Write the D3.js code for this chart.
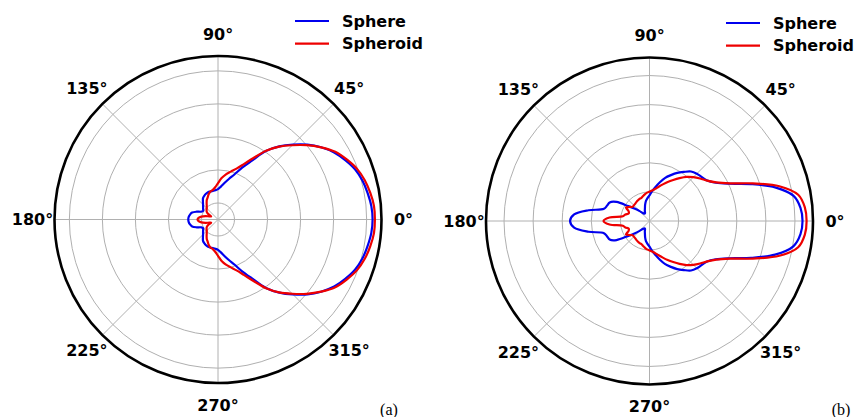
<!DOCTYPE html>
<html>
<head>
<meta charset="utf-8">
<script src="https://cdn.jsdelivr.net/npm/d3@7"></script>
<style>
  body { margin: 0; background: #fff; }
  svg { display: block; }
</style>
</head>
<body>
<svg id="chart" width="860" height="417"></svg>
<script>
// Far-field patterns (dB) sampled every 5° from 0° to 355°
const sampleAngles = d3.range(0, 360, 5);

// Panel (a)
const sphereA = [
  1.8, 1.6, 1.0, 0.3, -0.8, -2.5, -4.4, -6.9, -9.7, -12.9, -16.1, -19.7, -24.4, -27.7, -30.5, -32.3, -33.8, -35.0,
  -35.8, -36.1, -36.2, -36.2, -36.2, -36.4, -36.7, -37.1, -37.9, -38.6, -39.1, -39.5, -39.8, -39.4, -38.1, -36.9, -36.4, -36.1,
  -36.0, -36.1, -36.4, -36.9, -38.1, -39.4, -39.8, -39.5, -39.1, -38.6, -37.9, -37.1, -36.7, -36.4, -36.2, -36.2, -36.2, -36.1,
  -35.8, -35.0, -33.8, -32.3, -30.5, -27.7, -24.4, -19.7, -16.1, -12.9, -9.7, -6.9, -4.4, -2.5, -0.8, 0.3, 1.0, 1.6
];
const spheroidA = [
  2.5, 2.4, 1.8, 1.0, -0.2, -2.0, -4.0, -6.9, -10.0, -13.2, -16.2, -19.6, -23.5, -26.5, -28.6, -30.0, -31.1, -32.4,
  -34.0, -35.2, -35.9, -36.2, -36.8, -37.6, -38.2, -39.0, -39.7, -40.2, -40.5, -40.8, -41.4, -42.7, -42.2, -41.1, -39.9, -39.1,
  -38.8, -39.1, -39.9, -41.1, -42.2, -42.7, -41.4, -40.8, -40.5, -40.2, -39.7, -39.0, -38.2, -37.6, -36.8, -36.2, -35.9, -35.2,
  -34.0, -32.4, -31.1, -30.0, -28.6, -26.5, -23.5, -19.6, -16.2, -13.2, -10.0, -6.9, -4.0, -2.0, -0.2, 1.0, 1.8, 2.4
];

// Panel (b)
const sphereB = [
  2.6, 2.1, 0.2, -5.3, -12.9, -19.7, -23.7, -25.8, -26.5, -27.0, -27.8, -29.4, -30.9, -32.6, -34.2, -36.2, -38.1, -39.7,
  -41.2, -42.1, -43.0, -44.2, -45.4, -46.2, -46.9, -46.9, -46.4, -45.2, -43.5, -41.1, -36.9, -34.9, -34.5, -33.8, -28.7, -24.0,
  -22.7, -24.0, -28.7, -33.8, -34.5, -34.9, -36.9, -41.1, -43.5, -45.2, -46.4, -46.9, -46.9, -46.2, -45.4, -44.2, -43.0, -42.1,
  -41.2, -39.7, -38.1, -36.2, -34.2, -32.6, -30.9, -29.4, -27.8, -27.0, -26.5, -25.8, -23.7, -19.7, -12.9, -5.3, 0.2, 2.1
];
const spheroidB = [
  4.0, 3.6, 1.9, -3.8, -12.2, -19.4, -23.5, -25.8, -27.3, -28.7, -30.2, -32.0, -33.7, -35.2, -36.6, -37.8, -38.8, -39.5,
  -39.9, -40.2, -40.7, -41.2, -41.6, -41.7, -41.9, -42.1, -42.3, -42.4, -42.4, -41.6, -40.7, -42.1, -42.4, -41.4, -40.7, -36.2,
  -34.2, -36.2, -40.7, -41.4, -42.4, -42.1, -40.7, -41.6, -42.4, -42.4, -42.3, -42.1, -41.9, -41.7, -41.6, -41.2, -40.7, -40.2,
  -39.9, -39.5, -38.8, -37.8, -36.6, -35.2, -33.7, -32.0, -30.2, -28.7, -27.3, -25.8, -23.5, -19.4, -12.2, -3.8, 1.9, 3.6
];

// Axis ticks
const thetaTicks = [0, 45, 90, 135, 180, 225, 270, 315];
const thetaLabels = ["0°", "45°", "90°", "135°", "180°", "225°", "270°", "315°"];
const ringTicks = [-40, -30, -20, -10, 0];
const seriesNames = ["Sphere", "Spheroid"];
const seriesColors = ["#0000ee", "#ee0000"];

const panels = [
  { cx: 218, cy: 219.5, domain: [-45, 4.5], series: [sphereA, spheroidA], tag: "(a)", tagX: 389, legendX: 295, legendY: 21 },
  { cx: 649.5, cy: 221, domain: [-50, 6.2], series: [sphereB, spheroidB], tag: "(b)", tagX: 841, legendX: 726, legendY: 23 }
];

const R = 163.5;
const svg = d3.select("#chart");
svg.append("rect").attr("width", 860).attr("height", 417).attr("fill", "#fff");

const toRad = d => d * Math.PI / 180;

panels.forEach(p => {
  const g = svg.append("g").attr("transform", `translate(${p.cx},${p.cy})`);
  const r = d3.scaleLinear().domain(p.domain).range([0, R]);

  // grid rings
  g.selectAll("circle.ring").data(ringTicks).join("circle")
    .attr("class", "ring").attr("r", d => r(d))
    .attr("fill", "none").attr("stroke", "#b0b0b0").attr("stroke-width", 1);

  // spokes
  g.selectAll("line.spoke").data(thetaTicks).join("line")
    .attr("class", "spoke")
    .attr("x1", 0).attr("y1", 0)
    .attr("x2", d => R * Math.cos(toRad(d)))
    .attr("y2", d => -R * Math.sin(toRad(d)))
    .attr("stroke", "#b0b0b0").attr("stroke-width", 1);

  // pattern curves
  const line = d3.lineRadial()
    .angle((d, i) => Math.PI / 2 - toRad(sampleAngles[i]))
    .radius(d => r(d))
    .curve(d3.curveCatmullRomClosed.alpha(0.5));

  p.series.forEach((vals, k) => {
    g.append("path").datum(vals)
      .attr("d", line)
      .attr("fill", "none")
      .attr("stroke", seriesColors[k])
      .attr("stroke-width", 2.2)
      .attr("stroke-linejoin", "round");
  });

  // outer frame
  g.append("circle").attr("r", R).attr("fill", "none")
    .attr("stroke", "#000").attr("stroke-width", 2.6);

  // angle labels
  g.selectAll("text.theta").data(thetaTicks).join("text")
    .attr("class", "theta")
    .attr("x", d => (R + 22) * Math.cos(toRad(d)))
    .attr("y", d => -(R + 22) * Math.sin(toRad(d)))
    .attr("text-anchor", "middle")
    .attr("dominant-baseline", "central")
    .attr("font-family", "DejaVu Sans")
    .attr("font-weight", "bold")
    .attr("font-size", 16)
    .text((d, i) => thetaLabels[i]);

  // legend
  const lg = svg.append("g").attr("transform", `translate(${p.legendX},${p.legendY})`);
  seriesNames.forEach((name, k) => {
    lg.append("line").attr("x1", 0).attr("x2", 34).attr("y1", k * 22.7).attr("y2", k * 22.7)
      .attr("stroke", seriesColors[k]).attr("stroke-width", 2.2);
    lg.append("text").attr("x", 47).attr("y", k * 22.7)
      .attr("dominant-baseline", "central")
      .attr("font-family", "DejaVu Sans").attr("font-weight", "bold").attr("font-size", 16)
      .text(name);
  });

  // panel tag
  svg.append("text").attr("x", p.tagX).attr("y", 415)
    .attr("text-anchor", "middle")
    .attr("font-family", "Liberation Serif").attr("font-size", 16)
    .text(p.tag);
});
</script>
</body>
</html>
